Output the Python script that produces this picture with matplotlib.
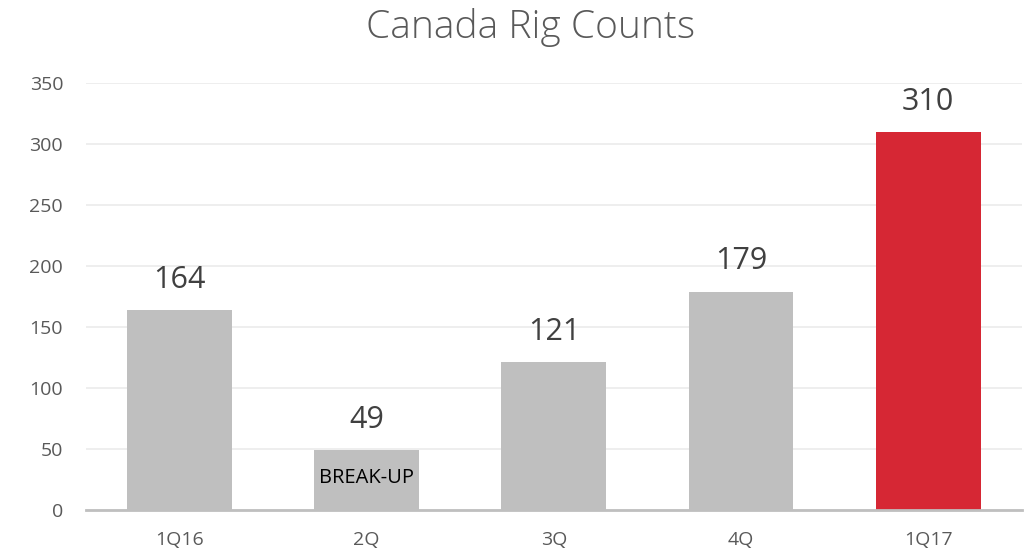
import matplotlib
matplotlib.use("Agg")
import matplotlib.pyplot as plt

quarters = ["1Q16", "2Q", "3Q", "4Q", "1Q17"]
rig_counts = [164, 49, 121, 179, 310]
bar_colors = ["#BFBFBF", "#BFBFBF", "#BFBFBF", "#BFBFBF", "#D62734"]
y_ticks = [0, 50, 100, 150, 200, 250, 300, 350]

plt.rcParams["font.family"] = ["Open Sans", "DejaVu Sans"]

fig = plt.figure(figsize=(10.30, 5.53), dpi=100)
ax = fig.add_axes([0.0835, 0.0778, 0.9085, 0.772])

x = range(len(quarters))
bars = ax.bar(x, rig_counts, width=0.56, color=bar_colors, zorder=3)

for rect, val in zip(bars, rig_counts):
    ax.annotate(str(val), (rect.get_x() + rect.get_width() / 2, val),
                xytext=(0, 11), textcoords="offset points",
                ha="center", va="bottom", fontsize=22, color="#404040")

ax.text(1, 26.6, "BREAK-UP", ha="center", va="center", fontsize=14.5,
        color="#000000", zorder=4)

ax.set_xlim(-0.5, len(quarters) - 0.5)
ax.set_ylim(0, 350)
ax.set_yticks(y_ticks)
ax.set_xticks(list(x))
ax.set_xticklabels(quarters)
ax.tick_params(axis="both", length=0, labelsize=14, labelcolor="#595959")
ax.tick_params(axis="y", pad=16.5)
ax.tick_params(axis="x", pad=15)

ax.grid(axis="y", color="#EBEBEB", linewidth=1.2, zorder=0)
for side in ["top", "right", "left"]:
    ax.spines[side].set_visible(False)
ax.spines["bottom"].set_color("#BFBFBF")
ax.spines["bottom"].set_linewidth(2)
ax.spines["bottom"].set_zorder(4)

fig.text(0.515, 1 - 38 / 553, "Canada Rig Counts", ha="center", va="baseline",
         fontsize=28, fontweight="light", color="#595959")

fig.savefig("out.png", dpi=100)
